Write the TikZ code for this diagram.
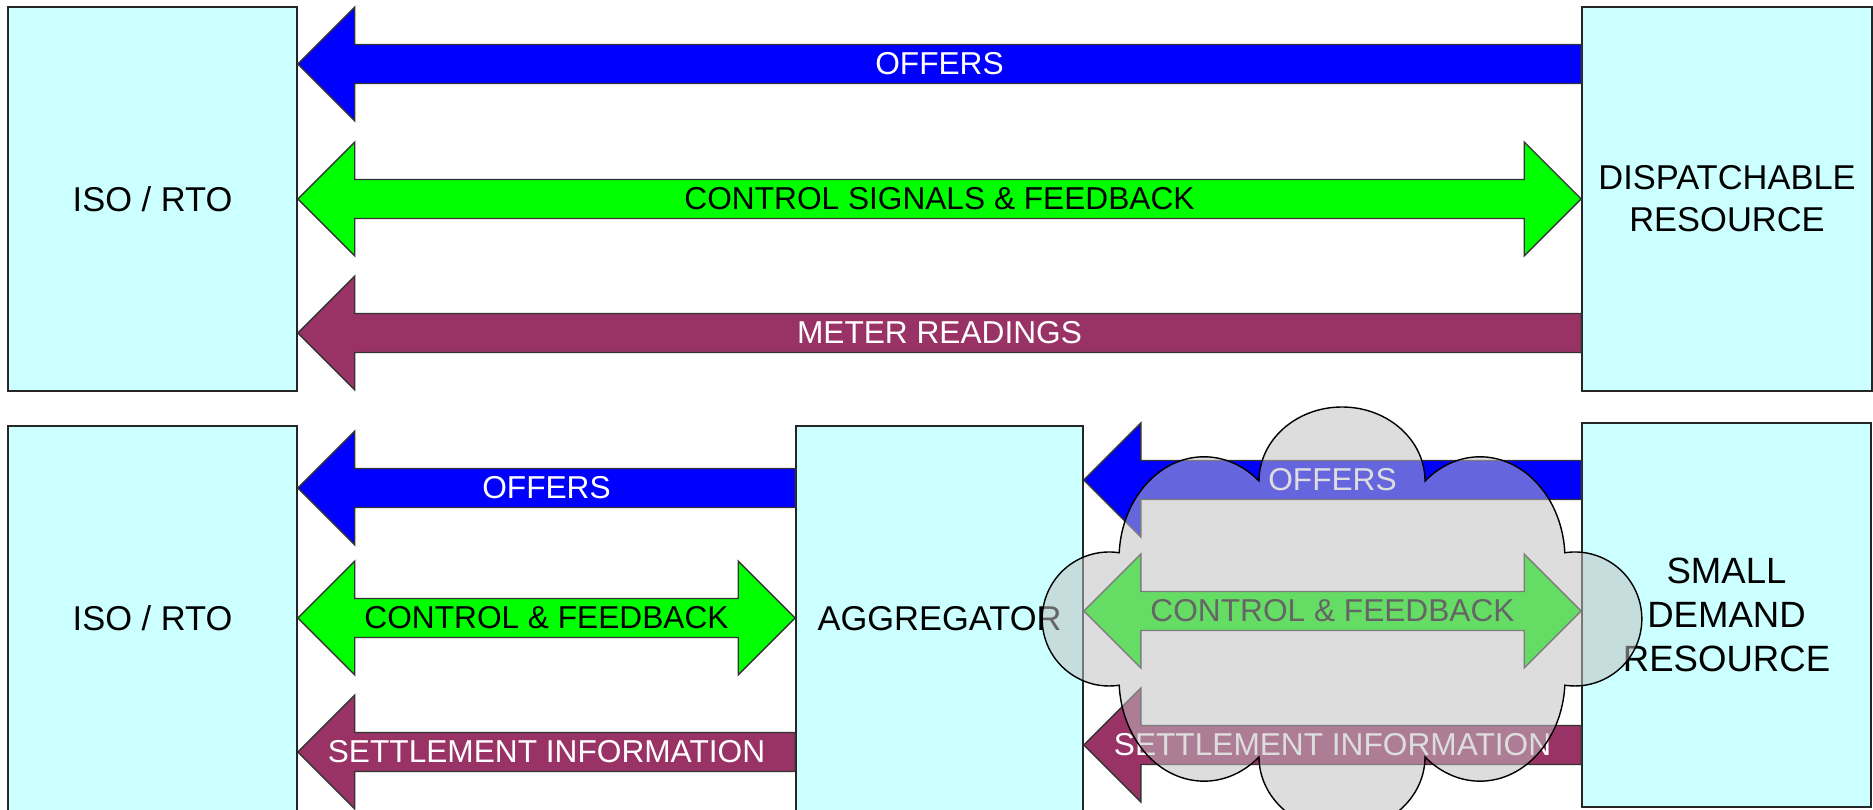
\documentclass[tikz,border=0pt]{standalone}
\usepackage{fontspec}
\setmainfont{Liberation Sans}
\usetikzlibrary{calc}
\definecolor{boxcyan}{RGB}{204,255,255}
\definecolor{offerblue}{RGB}{0,0,255}
\definecolor{ctrlgreen}{RGB}{0,255,0}
\definecolor{settlered}{RGB}{153,51,102}
\definecolor{cloudgray}{RGB}{191,191,191}
\newcommand{\leftblock}[6]{%
  \coordinate (#5-tip) at (#2.east |- 0,#4);
  \coordinate (#5-tail) at (#3.west |- 0,#4);
  \draw[#1] (#5-tip) -- ++(57,57) -- ++(0,-37.5) -- ($(#5-tail)+(0,19.5)$)
    -- ++(0,-39) -- ($(#5-tip)+(57,-19.5)$) -- ++(0,-37.5) -- cycle;
  \node[#1 label] (#5) at ($(#5-tip)!0.5!(#5-tail)$) {#6};
}
\newcommand{\bothblock}[6]{%
  \coordinate (#5-a) at (#2.east |- 0,#4);
  \coordinate (#5-b) at (#3.west |- 0,#4);
  \draw[#1] (#5-a) -- ++(57,57) -- ++(0,-37.5) -- ($(#5-b)+(-57,19.5)$) -- ++(0,37.5)
    -- (#5-b) -- ++(-57,-57) -- ++(0,37.5) -- ($(#5-a)+(57,-19.5)$) -- ++(0,-37.5) -- cycle;
  \node[#1 label] (#5) at ($(#5-a)!0.5!(#5-b)$) {#6};
}
\begin{document}
\begin{tikzpicture}[x=0.01cm,y=0.01cm,
  box/.style={draw=black!85,fill=boxcyan,line width=0.4pt,minimum width=2.89cm,
    minimum height=3.84cm,align=center,inner sep=0pt,font=\fontsize{9.8}{12}\selectfont},
  offers/.style={draw=black!80,fill=offerblue,line width=0.4pt},
  offers label/.style={text=white,inner sep=0pt,font=\fontsize{9}{11}\selectfont},
  ctrl/.style={draw=black!80,fill=ctrlgreen,line width=0.4pt},
  ctrl label/.style={text=black,inner sep=0pt,font=\fontsize{9}{11}\selectfont},
  settle/.style={draw=black!80,fill=settlered,line width=0.4pt},
  settle label/.style={text=white,inner sep=0pt,font=\fontsize{9}{11}\selectfont},
  cloudpatch/.style={draw=black,fill=cloudgray,fill opacity=0.53,line width=0.4pt}]
  \useasboundingbox (0,0) rectangle (1873,809);
  \clip (0,0) rectangle (1873,809);
  \node[box] (iso1) at (152.5,610) {ISO / RTO};
  \node[box,minimum width=2.90cm] (disp) at (1727,610) {DISPATCHABLE\\RESOURCE};
  \node[box,minimum height=3.85cm] (iso2) at (152.5,190.5) {ISO / RTO};
  \node[box,minimum width=2.87cm,minimum height=3.85cm] (agg) at (939.5,190.5) {AGGREGATOR};
  \node[box,font=\fontsize{10.4}{12.6}\selectfont] (sdr) at (1726.5,194) {SMALL\\DEMAND\\RESOURCE};
  \leftblock{offers}{iso1}{disp}{745}{of1}{OFFERS}
  \bothblock{ctrl}{iso1}{disp}{610}{cf1}{CONTROL SIGNALS \& FEEDBACK}
  \leftblock{settle}{iso1}{disp}{476}{mr1}{METER READINGS}
  \leftblock{offers}{iso2}{agg}{321}{of2}{OFFERS}
  \bothblock{ctrl}{iso2}{agg}{191}{cf2}{CONTROL \& FEEDBACK}
  \leftblock{settle}{iso2}{agg}{57}{si2}{SETTLEMENT INFORMATION}
  \leftblock{offers}{agg}{sdr}{329}{of3}{OFFERS}
  \bothblock{ctrl}{agg}{sdr}{198}{cf3}{CONTROL \& FEEDBACK}
  \leftblock{settle}{agg}{sdr}{64}{si3}{SETTLEMENT INFORMATION}
  \draw[cloudpatch] (1259,328) arc[start angle=180,end angle=0,x radius=83,y radius=74]
    arc[start angle=130.3,end angle=3.4,x radius=85,y radius=102]
    arc[start angle=98.6,end angle=-98.6,radius=67]
    arc[start angle=-3.4,end angle=-130.3,x radius=85,y radius=102]
    arc[start angle=0,end angle=-180,x radius=83,y radius=74]
    arc[start angle=-49.7,end angle=-176.6,x radius=85,y radius=102]
    arc[start angle=-81.4,end angle=-278.6,radius=67]
    arc[start angle=176.6,end angle=49.7,x radius=85,y radius=102] -- cycle;
\end{tikzpicture}
\end{document}
